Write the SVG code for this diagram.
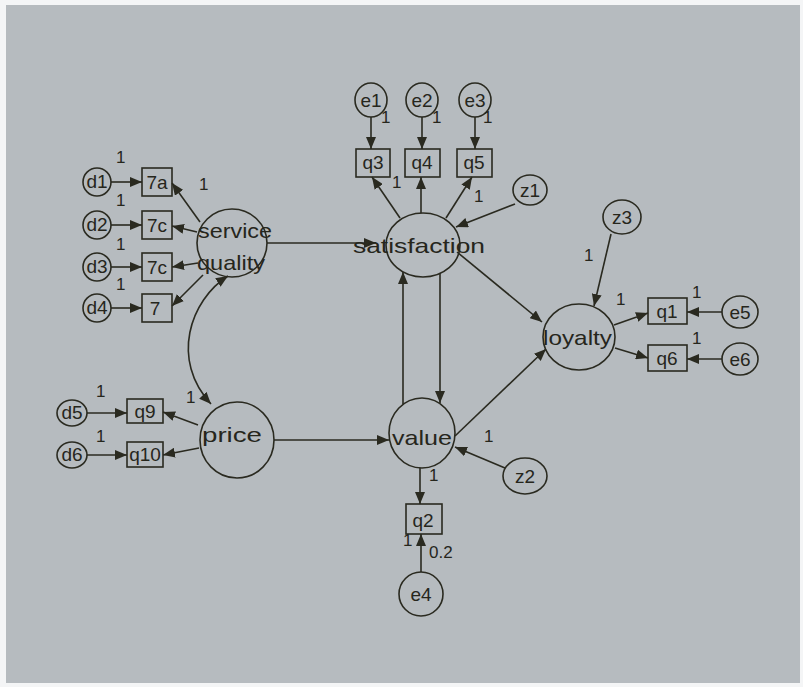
<svg xmlns="http://www.w3.org/2000/svg" width="803" height="687" viewBox="0 0 803 687">
<defs>
<style>
.ln{stroke:#2a2a20;stroke-width:1.6;fill:none}
.nd{stroke:#2a2a20;stroke-width:1.6;fill:none}
.t{font-family:"Liberation Sans",Arial,sans-serif;fill:#26261c}
.lg{font-size:21px}
.md{font-size:19px;text-anchor:middle}
.sm{font-size:17px}
</style>
<marker id="ah" viewBox="0 0 12 10" refX="12" refY="5" markerWidth="12" markerHeight="10" markerUnits="userSpaceOnUse" orient="auto-start-reverse"><path d="M0,0 L12,5 L0,10 z" fill="#2a2a20"/></marker>
</defs>
<rect x="0" y="0" width="803" height="687" fill="#f4f5f6"/>
<rect x="6" y="5" width="794" height="678" fill="#b6bbbf"/>
<g id="connectors" class="ln" marker-end="url(#ah)">
<path d="M111,182 L142,182"/>
<path d="M111,225 L142,225"/>
<path d="M111,267 L142,267"/>
<path d="M111,308 L142,308"/>
<path d="M200,222 L172,183"/>
<path d="M197,232 L172,226"/>
<path d="M198,263 L172,267"/>
<path d="M203,275 L172,306"/>
<path d="M228,276 C190,300 170,360 211,404" marker-start="url(#ah)"/>
<path d="M267,243 L376,243"/>
<path d="M87,413 L127,413"/>
<path d="M87,455 L127,455"/>
<path d="M198,425 L163,412"/>
<path d="M199,448 L163,455"/>
<path d="M274,440 L389,440"/>
<path d="M371,117 L371,149"/>
<path d="M422,117 L422,149"/>
<path d="M475,117 L475,149"/>
<path d="M400,218 L372,177"/>
<path d="M421,213 L421,177"/>
<path d="M446,218 L472,177"/>
<path d="M515,204 L456,227"/>
<path d="M440,273 L440,403"/>
<path d="M403,404 L403,272"/>
<path d="M457,252 L542,322"/>
<path d="M455,436 L546,349"/>
<path d="M611,234 L594,306"/>
<path d="M614,325 L648,313"/>
<path d="M615,348 L648,358"/>
<path d="M722,312 L687,312"/>
<path d="M722,359 L687,359"/>
<path d="M505,468 L455,447"/>
<path d="M420,468 L420,504"/>
<path d="M421,572 L421,534"/>
</g>
<g id="service_quality"><ellipse class="nd" cx="232" cy="243" rx="35" ry="34"/><text class="t lg" x="198" y="238" textLength="74" lengthAdjust="spacingAndGlyphs">service</text><text class="t lg" x="197" y="270" textLength="68" lengthAdjust="spacingAndGlyphs">quality</text></g>
<g id="satisfaction"><ellipse class="nd" cx="423" cy="245" rx="37" ry="32"/><text class="t lg" x="353" y="253" textLength="132" lengthAdjust="spacingAndGlyphs">satisfaction</text></g>
<g id="price"><ellipse class="nd" cx="237" cy="440" rx="37" ry="38"/><text class="t lg" x="202" y="442" textLength="60" lengthAdjust="spacingAndGlyphs">price</text></g>
<g id="value"><ellipse class="nd" cx="422" cy="433" rx="33" ry="35"/><text class="t lg" x="392" y="445" textLength="60" lengthAdjust="spacingAndGlyphs">value</text></g>
<g id="loyalty"><ellipse class="nd" cx="579" cy="337" rx="36" ry="33"/><text class="t lg" x="543" y="345" textLength="69" lengthAdjust="spacingAndGlyphs">loyalty</text></g>
<g id="b7a"><rect class="nd" x="142" y="168" width="30" height="28"/><text class="t md" x="157" y="189">7a</text></g>
<g id="b7c1"><rect class="nd" x="142" y="211" width="30" height="28"/><text class="t md" x="157" y="232">7c</text></g>
<g id="b7c2"><rect class="nd" x="142" y="253" width="30" height="28"/><text class="t md" x="157" y="274">7c</text></g>
<g id="b7"><rect class="nd" x="142" y="294" width="30" height="28"/><text class="t md" x="155" y="315">7</text></g>
<g id="q9"><rect class="nd" x="127" y="399" width="36" height="24"/><text class="t md" x="145" y="418">q9</text></g>
<g id="q10"><rect class="nd" x="127" y="442" width="36" height="25"/><text class="t md" x="145" y="461">q10</text></g>
<g id="q3"><rect class="nd" x="356" y="149" width="34" height="28"/><text class="t md" x="373" y="169">q3</text></g>
<g id="q4"><rect class="nd" x="405" y="149" width="35" height="28"/><text class="t md" x="422" y="169">q4</text></g>
<g id="q5"><rect class="nd" x="457" y="149" width="35" height="28"/><text class="t md" x="474" y="169">q5</text></g>
<g id="q1"><rect class="nd" x="648" y="298" width="39" height="26"/><text class="t md" x="667" y="318">q1</text></g>
<g id="q6"><rect class="nd" x="648" y="345" width="39" height="26"/><text class="t md" x="667" y="365">q6</text></g>
<g id="q2"><rect class="nd" x="406" y="504" width="36" height="30"/><text class="t md" x="423" y="527">q2</text></g>
<g id="d1"><ellipse class="nd" cx="97" cy="182" rx="14" ry="14"/><text class="t md" x="97" y="188">d1</text></g>
<g id="d2"><ellipse class="nd" cx="97" cy="225" rx="14" ry="14"/><text class="t md" x="97" y="231">d2</text></g>
<g id="d3"><ellipse class="nd" cx="97" cy="267" rx="14" ry="14"/><text class="t md" x="97" y="273">d3</text></g>
<g id="d4"><ellipse class="nd" cx="97" cy="308" rx="14" ry="14"/><text class="t md" x="97" y="314">d4</text></g>
<g id="d5"><ellipse class="nd" cx="72" cy="413" rx="15" ry="13"/><text class="t md" x="72" y="419">d5</text></g>
<g id="d6"><ellipse class="nd" cx="72" cy="455" rx="15" ry="13"/><text class="t md" x="72" y="461">d6</text></g>
<g id="e1"><ellipse class="nd" cx="371" cy="100" rx="16" ry="17"/><text class="t md" x="371" y="107">e1</text></g>
<g id="e2"><ellipse class="nd" cx="422" cy="100" rx="16" ry="17"/><text class="t md" x="422" y="107">e2</text></g>
<g id="e3"><ellipse class="nd" cx="475" cy="100" rx="16" ry="17"/><text class="t md" x="475" y="107">e3</text></g>
<g id="z1"><ellipse class="nd" cx="530" cy="190" rx="17" ry="15"/><text class="t md" x="530" y="197">z1</text></g>
<g id="z3"><ellipse class="nd" cx="622" cy="217" rx="19" ry="17"/><text class="t md" x="622" y="224">z3</text></g>
<g id="z2"><ellipse class="nd" cx="525" cy="476" rx="22" ry="18"/><text class="t md" x="525" y="483">z2</text></g>
<g id="e5"><ellipse class="nd" cx="740" cy="312" rx="18" ry="16"/><text class="t md" x="740" y="319">e5</text></g>
<g id="e6"><ellipse class="nd" cx="740" cy="359" rx="18" ry="16"/><text class="t md" x="740" y="366">e6</text></g>
<g id="e4"><ellipse class="nd" cx="421" cy="594" rx="22" ry="22"/><text class="t md" x="421" y="601">e4</text></g>
<g id="labels" class="t sm">
<text x="116" y="163">1</text><text x="116" y="206">1</text><text x="116" y="250">1</text><text x="116" y="290">1</text>
<text x="199" y="190">1</text>
<text x="381" y="123">1</text><text x="432" y="123">1</text><text x="483" y="123">1</text>
<text x="392" y="188">1</text><text x="474" y="202">1</text>
<text x="584" y="261">1</text><text x="616" y="305">1</text>
<text x="692" y="298">1</text><text x="692" y="344">1</text>
<text x="96" y="397">1</text><text x="96" y="442">1</text><text x="186" y="403">1</text>
<text x="484" y="442">1</text><text x="429" y="481">1</text><text x="403" y="546">1</text>
<text x="429" y="558">0.2</text>
</g>
</svg>
